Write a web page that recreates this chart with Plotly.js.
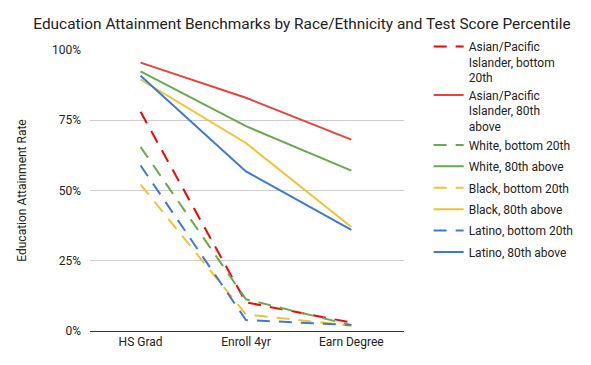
<!DOCTYPE html>
<html><head><meta charset="utf-8">
<script src="https://cdn.plot.ly/plotly-3.0.1.min.js"></script>
<style>body{margin:0;background:#fff}#c{width:591px;height:365px}</style>
</head><body><div id="c"></div>
<script>
const categories = ["HS Grad", "Enroll 4yr", "Earn Degree"];
const seriesNames = [
  "Asian/Pacific<br>Islander, bottom<br>20th",
  "Asian/Pacific<br>Islander, 80th<br>above",
  "White, bottom 20th",
  "White, 80th above",
  "Black, bottom 20th",
  "Black, 80th above",
  "Latino, bottom 20th",
  "Latino, 80th above"
];
const asianBottom = [0.78, 0.102, 0.030];
const asianTop    = [0.955, 0.830, 0.681];
const whiteBottom = [0.655, 0.113, 0.021];
const whiteTop    = [0.924, 0.729, 0.571];
const blackBottom = [0.521, 0.059, 0.019];
const blackTop    = [0.895, 0.669, 0.370];
const latinoBottom= [0.589, 0.039, 0.021];
const latinoTop   = [0.908, 0.568, 0.360];
const seriesValues = [asianBottom, asianTop, whiteBottom, whiteTop, blackBottom, blackTop, latinoBottom, latinoTop];
const colors = ["#ff0000", "#ea4335", "#6aa84f", "#6aa84f", "#f1c232", "#f1c232", "#3c78d8", "#3c78d8"];
const dashed = [true, false, true, false, true, false, true, false];
const legendIds = ["legend", "legend2", "legend3", "legend3", "legend3", "legend3", "legend3", "legend3"];

const traces = seriesValues.map((v, i) => ({
  x: categories, y: v, name: seriesNames[i], type: "scatter", mode: "lines",
  legend: legendIds[i], legendgroup: "g" + i,
  line: {color: colors[i], width: 2, dash: dashed[i] ? "13px,9px" : "solid"}
}));

const legBase = {x: 1.0785, xanchor: "left", yanchor: "top", valign: "top",
  font: {size: 12, color: "#222"}, tracegroupgap: 2.4, itemwidth: 30, bgcolor: "rgba(0,0,0,0)"};

const layout = {
  width: 591, height: 365,
  margin: {l: 90, r: 183, t: 50, b: 34},
  paper_bgcolor: "#fff", plot_bgcolor: "#fff",
  font: {family: "Roboto, Arial, sans-serif", size: 12, color: "#222"},
  title: {text: "Education Attainment Benchmarks by Race/Ethnicity and Test Score Percentile",
          font: {size: 15.4, color: "#222"}, x: 0.511, xanchor: "center", y: 0.935, yanchor: "middle"},
  xaxis: {type: "category", range: [-0.48, 2.5], showgrid: false, showline: false, zeroline: false,
          ticks: "", ticklabelstandoff: 2, tickfont: {size: 12, color: "#222"}, fixedrange: true},
  yaxis: {range: [0, 1], tickvals: [0, 0.25, 0.5, 0.75, 1], ticktext: ["0%", "25%", "50%", "75%", "100%"],
          showgrid: true, gridcolor: "#cccccc", gridwidth: 1, zeroline: true, zerolinecolor: "#333", zerolinewidth: 1,
          showline: false, ticks: "", ticklen: 0, ticklabelstandoff: 8, tickfont: {size: 12, color: "#222"},
          title: {text: "Education Attainment Rate", font: {size: 12, color: "#222"}, standoff: 22}},
  legend: Object.assign({}, legBase, {y: 1.0635}),
  legend2: Object.assign({}, legBase, {y: 0.8907}),
  legend3: Object.assign({}, legBase, {y: 0.713}),
  showlegend: true
};
Plotly.newPlot("c", traces, layout, {displayModeBar: false, staticPlot: true});
</script></body></html>
